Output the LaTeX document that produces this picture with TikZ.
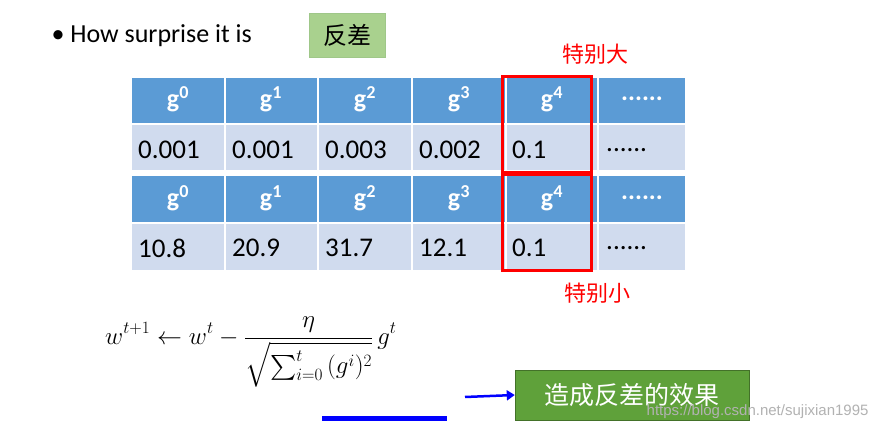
\documentclass[tikz,border=0pt]{standalone}
\usepackage{amsmath}
\usepackage{fontspec}
\setmainfont{Carlito}
\newfontfamily\cjk{Noto Sans CJK SC}
\newfontfamily\wm{Liberation Sans}
\usetikzlibrary{arrows.meta}
\definecolor{hdr}{HTML}{5B9BD5}
\definecolor{cell}{HTML}{D0DBEE}
\definecolor{gbox}{HTML}{A9D18E}
\definecolor{gdark}{HTML}{5FA13A}
\newcommand{\mydots}{......}
\tikzset{x=1pt,y=-1pt,
 hcell/.style={text=white,font=\fontsize{26}{28}\selectfont\bfseries},
 dcell/.style={anchor=west,inner sep=0,font=\fontsize{27}{29}\selectfont},
 redbox/.style={draw=red,line width=3pt},
 lab/.style={text=red,font=\cjk\fontsize{22}{24}\selectfont}}
\begin{document}
\begin{tikzpicture}
\useasboundingbox (0,0) rectangle (875,435);
\fill[white] (0,0) rectangle (875,435);
\node[anchor=west,font=\fontsize{26}{28}\selectfont] (title) at (48,36) {\textbullet\ How surprise it is};
\node[draw=gdark!60,fill=gbox,minimum width=76pt,minimum height=44pt,font=\cjk\fontsize{24}{26}\selectfont] (fc) at (347,35) {反差};
% tables
\foreach \xa/\xb in {132/224,226/317,319/411,413/505,507/597,599/685}{
  \fill[hdr] (\xa,78) rectangle (\xb,123);
  \fill[cell] (\xa,125) rectangle (\xb,170);
  \fill[hdr] (\xa,176) rectangle (\xb,222);
  \fill[cell] (\xa,224) rectangle (\xb,270);
}
\foreach \xc/\t [count=\i] in {178/{g\textsuperscript{0}},271/{g\textsuperscript{1}},365/{g\textsuperscript{2}},459/{g\textsuperscript{3}},552/{g\textsuperscript{4}},642/{\mydots}}{
  \node[hcell] (ha\i) at (\xc,99) {\t};
  \node[hcell] (hb\i) at (\xc,198) {\t};
}
\foreach \xl/\t [count=\i] in {138/{0.001},232/{0.001},325/{0.003},419/{0.002},512/{0.1},606/{\mydots}}{
  \node[dcell] (da\i) at (\xl,150) {\t};
}
\foreach \xl/\t [count=\i] in {138/{10.8},232/{20.9},325/{31.7},419/{12.1},512/{0.1},606/{\mydots}}{
  \node[dcell] (db\i) at (\xl,248) {\t};
}
\draw[redbox] (502,77) rectangle (591,173);
\draw[redbox] (502,175) rectangle (591,271);
\node[lab] (big) at (595,54) {特别大};
\node[lab] (small) at (597,293) {特别小};
% formula
\node[anchor=west,inner sep=0,font=\fontsize{27}{30}\selectfont] (eq) at (105,352)
 {$\displaystyle w^{t+1}\leftarrow w^t-\frac{\eta}{\sqrt{\sum_{i=0}^{t}\,(g^i)^2}}\,g^t$};
\fill[blue] (322,416) rectangle (447,421);
\coordinate (as) at (465,397);
\node[fill=gdark,draw=gdark!70!black,minimum width=234pt,minimum height=50pt,text=white,font=\cjk\fontsize{25}{27}\selectfont] (eff) at (632,395) {造成反差的效果};
\draw[blue,line width=2.5pt,-{Triangle[length=8pt,width=10pt]}] (as) -- (eff.west);
\node[anchor=east,text=gray!60,font=\wm\fontsize{15}{17}\selectfont] (wmk) at (872,412) {https://blog.csdn.net/sujixian1995};
\end{tikzpicture}
\end{document}
